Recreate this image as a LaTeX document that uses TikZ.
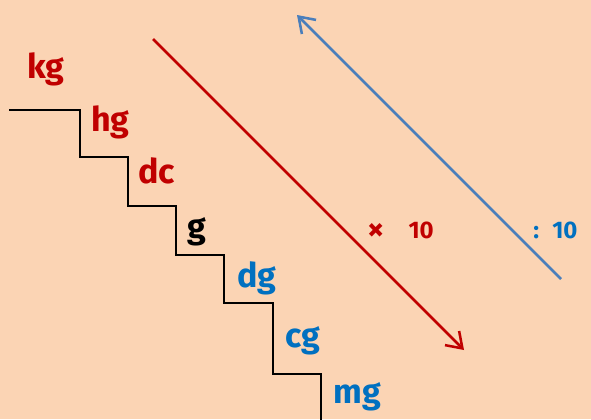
\documentclass[tikz,border=0pt]{standalone}
\usepackage{fontspec}
\setmainfont{Fira Sans}
\usetikzlibrary{arrows.meta}
\definecolor{bg}{HTML}{FBD4B4}
\definecolor{myred}{HTML}{C00000}
\definecolor{myblue}{HTML}{0070C0}
\definecolor{arrblue}{HTML}{4A7EBB}
\begin{document}
\begin{tikzpicture}[x=0.75pt,y=-0.75pt,
  unit/.style={anchor=base west, inner sep=0pt, font=\bfseries\fontsize{25.5}{30}\selectfont},
  num/.style={anchor=base west, inner sep=0pt, font=\bfseries\fontsize{18}{20}\selectfont},
  stair/.style={line width=2.2pt, line join=miter},
  conv/.style={line width=1.9pt, -{Straight Barb[length=11pt,width=15pt,line width=1.9pt]}}]
\fill[bg] (0,0) rectangle (591,419);
\useasboundingbox (0,0) rectangle (591,419);
\draw[stair] (9,110) -- (80,110) -- (80,157) -- (128,157) -- (128,206) -- (176,206) -- (176,255) -- (224,255) -- (224,303) -- (273,303) -- (273,374) -- (321,374) -- (321,421);
\node[unit, myred] (kg) at (27,78) {kg};
\node[unit, myred] (hg) at (91,131) {hg};
\node[unit, myred] (dc) at (138,183) {dc};
\node[unit, black] (g) at (187,238) {g};
\node[unit, myblue] (dg) at (237,287) {dg};
\node[unit, myblue] (cg) at (285,347) {cg};
\node[unit, myblue] (mg) at (333,403) {mg};
\coordinate (r1) at (153,39);
\coordinate (r2) at (464,350);
\draw[conv, myred] (r1) -- (r2);
\coordinate (b1) at (561,279);
\coordinate (b2) at (297,15);
\draw[conv, arrblue] (b1) -- (b2);
\node[num, myred] (times) at (367,238) {\raisebox{-1.5pt}{\fontsize{25}{25}\selectfont ×}\hspace{18pt}10};
\node[num, myblue] (div) at (533,238) {:\hspace{10pt}10};
\end{tikzpicture}
\end{document}
